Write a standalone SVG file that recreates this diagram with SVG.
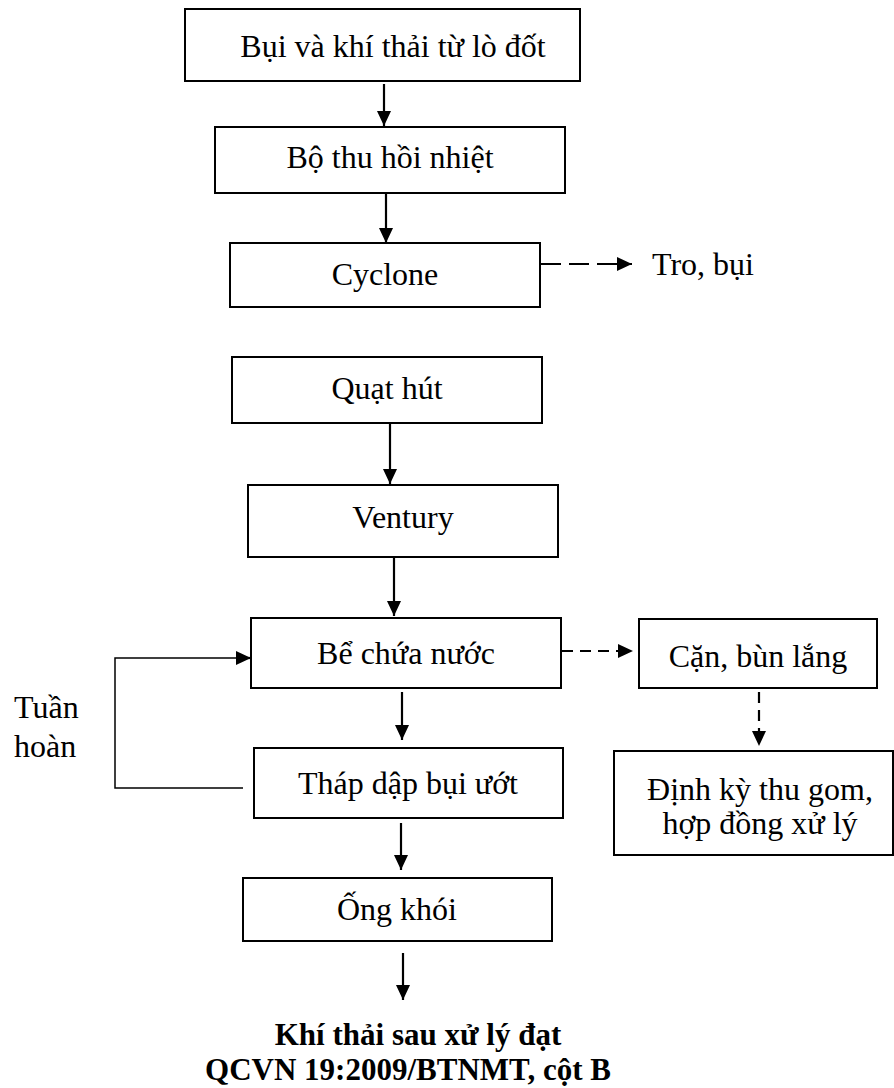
<svg xmlns="http://www.w3.org/2000/svg" width="894" height="1088" viewBox="0 0 894 1088">
<defs>
<style>
.box{fill:#fff;stroke:#000;stroke-width:2}
.t{font-family:"Liberation Serif","Times New Roman",serif;font-size:32px;fill:#000}
.c{text-anchor:middle}
.b{font-weight:bold;font-size:31px}
.ln{fill:none;stroke:#000;stroke-width:2.2}
.thin{fill:none;stroke:#000;stroke-width:1.5}
.dh{stroke-dasharray:20 8}
.ds{stroke-dasharray:11 7}
</style>
<marker id="ah" viewBox="0 0 15 14" refX="15" refY="7" markerWidth="15" markerHeight="14" markerUnits="userSpaceOnUse" orient="auto">
<path d="M0,0 L15,7 L0,14 Z" fill="#000"/>
</marker>
</defs>
<rect width="894" height="1088" fill="#fff"/>
<g id="connectors">
<path class="ln" d="M384,84 V126" marker-end="url(#ah)"/>
<path class="ln" d="M386,193 V243" marker-end="url(#ah)"/>
<path class="ln dh" d="M541,264 H632" marker-end="url(#ah)"/>
<path class="ln" d="M390,423 V484" marker-end="url(#ah)"/>
<path class="ln" d="M394,557 V616" marker-end="url(#ah)"/>
<path class="ln ds" d="M562,651 H633" marker-end="url(#ah)"/>
<path class="ln ds" d="M759,692 V746" marker-end="url(#ah)"/>
<path class="ln" d="M402,692 V740" marker-end="url(#ah)"/>
<path class="thin" d="M243,788 H115 V658 H237"/>
<path class="ln" d="M236,658 H251" marker-end="url(#ah)"/>
<path class="ln" d="M401,823 V870" marker-end="url(#ah)"/>
<path class="ln" d="M403,953 V1000" marker-end="url(#ah)"/>
</g>
<g id="n1"><rect class="box" x="185" y="9" width="395" height="72"/><text class="t c" x="393" y="57">Bụi và khí thải từ lò đốt</text></g>
<g id="n2"><rect class="box" x="215" y="127" width="350" height="66"/><text class="t c" x="390" y="168">Bộ thu hồi nhiệt</text></g>
<g id="n3"><rect class="box" x="230" y="243" width="310" height="64"/><text class="t c" x="385" y="285">Cyclone</text></g>
<g id="n4"><text class="t" x="652" y="275">Tro, bụi</text></g>
<g id="n5"><rect class="box" x="232" y="357" width="310" height="66"/><text class="t c" x="387" y="399">Quạt hút</text></g>
<g id="n6"><rect class="box" x="248" y="485" width="310" height="72"/><text class="t c" x="403" y="528">Ventury</text></g>
<g id="n7"><rect class="box" x="251" y="618" width="310" height="70"/><text class="t c" x="406" y="664">Bể chứa nước</text></g>
<g id="n8"><rect class="box" x="639" y="619" width="238" height="69"/><text class="t c" x="758" y="667">Cặn, bùn lắng</text></g>
<g id="n9"><rect class="box" x="614" y="751" width="279" height="104"/><text class="t c" x="760" y="800">Định kỳ thu gom,</text><text class="t c" x="760" y="834">hợp đồng xử lý</text></g>
<g id="n10"><rect class="box" x="254" y="748" width="309" height="70"/><text class="t c" x="408" y="794">Tháp dập bụi ướt</text></g>
<g id="n11"><text class="t" x="14" y="718">Tuần</text><text class="t" x="14" y="757">hoàn</text></g>
<g id="n12"><rect class="box" x="243" y="878" width="309" height="63"/><text class="t c" x="397" y="920">Ống khói</text></g>
<g id="n13"><text class="t b c" x="418" y="1045">Khí thải sau xử lý đạt</text><text class="t b c" x="408" y="1080">QCVN 19:2009/BTNMT, cột B</text></g>
</svg>
